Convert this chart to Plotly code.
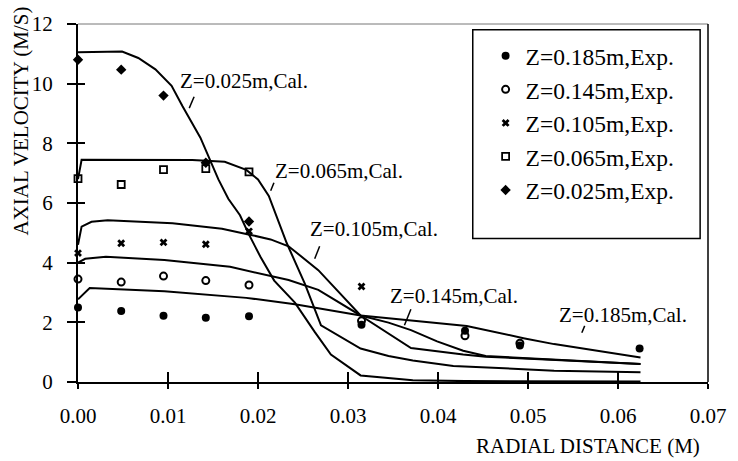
import plotly.graph_objects as go

# ---------------- data ----------------
# Calculated profiles (lines)
cal_025_x = [0.0, 0.0049, 0.0067, 0.0086, 0.0104, 0.0116, 0.0136, 0.0147, 0.0156, 0.0167,
             0.0180, 0.0190, 0.0203, 0.0218, 0.0241, 0.0263, 0.0281, 0.0314, 0.0372, 0.0430, 0.0625]
cal_025_y = [11.05, 11.08, 10.86, 10.48, 9.93, 9.25, 8.19, 7.44, 6.79, 6.14,
             5.59, 4.94, 4.18, 3.40, 2.66, 1.68, 0.92, 0.22, 0.06, 0.03, 0.02]

cal_065_x = [0.0, 0.0004, 0.0127, 0.0163, 0.0187, 0.0200, 0.0212, 0.0232, 0.0252, 0.0270,
             0.0314, 0.0345, 0.0372, 0.0417, 0.0529, 0.0625]
cal_065_y = [6.80, 7.45, 7.44, 7.38, 7.11, 6.79, 6.24, 4.65, 3.30, 1.90,
             1.12, 0.87, 0.72, 0.54, 0.38, 0.33]

cal_105_x = [0.0, 0.0004, 0.0015, 0.0033, 0.0105, 0.0160, 0.0192, 0.0214, 0.0234, 0.0267,
             0.0314, 0.0345, 0.0370, 0.0428, 0.0453, 0.0625]
cal_105_y = [4.60, 5.21, 5.37, 5.42, 5.32, 5.14, 4.93, 4.78, 4.55, 3.75,
             2.23, 1.63, 1.14, 0.92, 0.85, 0.60]

cal_145_x = [0.0, 0.0008, 0.0031, 0.0096, 0.0169, 0.0234, 0.0267, 0.0314, 0.0345, 0.0370,
             0.0399, 0.0428, 0.0453, 0.0625]
cal_145_y = [4.00, 4.13, 4.20, 4.09, 3.86, 3.42, 3.09, 2.23, 1.99, 1.74,
             1.36, 1.05, 0.87, 0.60]

cal_185_x = [0.0, 0.0013, 0.0096, 0.0187, 0.0241, 0.0274, 0.0314, 0.0345, 0.0432, 0.0495,
             0.0529, 0.0625]
cal_185_y = [2.77, 3.15, 3.04, 2.82, 2.61, 2.44, 2.23, 2.14, 1.88, 1.47,
             1.27, 0.82]

# Experimental points
exp_185_x = [0.0, 0.0048, 0.0095, 0.0142, 0.0190, 0.0315, 0.0430, 0.0491, 0.0624]
exp_185_y = [2.50, 2.38, 2.22, 2.15, 2.20, 1.92, 1.72, 1.22, 1.12]
exp_145_x = [0.0, 0.0048, 0.0095, 0.0142, 0.0190, 0.0315, 0.0430, 0.0491]
exp_145_y = [3.45, 3.35, 3.55, 3.40, 3.25, 2.05, 1.55, 1.30]
exp_105_x = [0.0, 0.0048, 0.0095, 0.0142, 0.0190, 0.0315]
exp_105_y = [4.32, 4.65, 4.68, 4.62, 5.05, 3.20]
exp_065_x = [0.0, 0.0048, 0.0095, 0.0142, 0.0190]
exp_065_y = [6.82, 6.62, 7.12, 7.15, 7.04]
exp_025_x = [0.0, 0.0048, 0.0095, 0.0142, 0.0190]
exp_025_y = [10.80, 10.47, 9.60, 7.35, 5.38]

x_tick_vals = [0.00, 0.01, 0.02, 0.03, 0.04, 0.05, 0.06, 0.07]
x_tick_text = ["0.00", "0.01", "0.02", "0.03", "0.04", "0.05", "0.06", "0.07"]
y_tick_vals = [0, 2, 4, 6, 8, 10, 12]

cal_labels = ["Z=0.025m,Cal.", "Z=0.065m,Cal.", "Z=0.105m,Cal.", "Z=0.145m,Cal.", "Z=0.185m,Cal."]
exp_labels = ["Z=0.185m,Exp.", "Z=0.145m,Exp.", "Z=0.105m,Exp.", "Z=0.065m,Exp.", "Z=0.025m,Exp."]

# ---------------- figure ----------------
FONT = "Liberation Serif"
fig = go.Figure()

line_style = dict(color="black", width=2)
for xs, ys in [(cal_025_x, cal_025_y), (cal_065_x, cal_065_y), (cal_105_x, cal_105_y),
               (cal_145_x, cal_145_y), (cal_185_x, cal_185_y)]:
    fig.add_trace(go.Scatter(x=xs, y=ys, mode="lines", line=line_style,
                             showlegend=False, hoverinfo="skip"))

exp_sets = [
    (exp_185_x, exp_185_y, dict(symbol="circle", size=8, color="black")),
    (exp_145_x, exp_145_y, dict(symbol="circle-open", size=7, color="black", line=dict(width=2))),
    (exp_105_x, exp_105_y, dict(symbol="x", size=7, color="black")),
    (exp_065_x, exp_065_y, dict(symbol="square-open", size=7, color="black", line=dict(width=1.8))),
    (exp_025_x, exp_025_y, dict(symbol="diamond", size=8, color="black")),
]
for (xs, ys, mk), name in zip(exp_sets, exp_labels):
    fig.add_trace(go.Scatter(x=xs, y=ys, mode="markers", marker=mk, name=name,
                             cliponaxis=False))

# invisible trace so that the overlay axes (inner tick marks) are drawn
fig.add_trace(go.Scatter(x=[None], y=[None], xaxis="x2", yaxis="y2", mode="markers",
                         showlegend=False, hoverinfo="skip"))

# label positions (data coords) and their small pointer strokes
label_pos = [(0.01109, 10.09), (0.02163, 7.06), (0.02554, 5.14), (0.03446, 2.89), (0.05326, 2.24)]
pointer = [((0.01236, 9.18), (0.01290, 9.56)),
           ((0.02141, 6.41), (0.02177, 6.68)),
           ((0.02630, 4.13), (0.02685, 4.55)),
           ((0.03627, 1.90), (0.03699, 2.44)),
           ((0.05598, 1.65), (0.05630, 1.88))]

annotations = []
for txt, (lx, ly) in zip(cal_labels, label_pos):
    annotations.append(dict(x=lx, y=ly, xref="x", yref="y", text=txt, showarrow=False,
                            xanchor="left", yanchor="middle",
                            font=dict(family=FONT, size=21, color="black")))
annotations.append(dict(x=0.99, y=-0.178, xref="paper", yref="paper",
                        text="RADIAL DISTANCE (M)", showarrow=False,
                        xanchor="right", yanchor="middle",
                        font=dict(family=FONT, size=21, color="black")))
annotations.append(dict(x=-0.0906, y=0.73, xref="paper", yref="paper",
                        text="AXIAL VELOCITY (M/S)", showarrow=False, textangle=-90,
                        xanchor="center", yanchor="middle",
                        font=dict(family=FONT, size=21, color="black")))

shapes = []
for (p0, p1) in pointer:
    shapes.append(dict(type="line", xref="x", yref="y", x0=p0[0], y0=p0[1], x1=p1[0], y1=p1[1],
                       line=dict(color="black", width=1.5)))
# top and right borders of the plot frame
shapes.append(dict(type="line", xref="paper", yref="paper", x0=0, y0=1, x1=1, y1=1,
                   line=dict(color="#777777", width=1)))
shapes.append(dict(type="line", xref="paper", yref="paper", x0=1, y0=0, x1=1, y1=1,
                   line=dict(color="black", width=1.5)))
# legend frame
shapes.append(dict(type="rect", xref="paper", yref="paper", x0=0.6266, y0=0.4006,
                   x1=0.9875, y1=0.9837, line=dict(color="black", width=1.5)))

axis_common = dict(showgrid=False, zeroline=False, showline=True, linecolor="black",
                   linewidth=2, tickcolor="black", tickwidth=1.5,
                   tickfont=dict(family=FONT, size=21, color="black"))

fig.update_layout(
    width=738, height=461,
    margin=dict(l=78, r=20, t=13, b=79),
    paper_bgcolor="white", plot_bgcolor="white",
    showlegend=True,
    legend=dict(x=0.647, y=0.972, xanchor="left", yanchor="top",
                bgcolor="rgba(0,0,0,0)", borderwidth=0,
                font=dict(family=FONT, size=23.5, color="black")),
    xaxis=dict(range=[0, 0.07], tickvals=x_tick_vals, ticktext=x_tick_text,
               ticks="outside", ticklen=5, ticklabelstandoff=9, **axis_common),
    yaxis=dict(range=[0, 12], tickvals=y_tick_vals,
               ticks="outside", ticklen=9, ticklabelstandoff=10, **axis_common),
    xaxis2=dict(range=[0, 0.07], tickvals=x_tick_vals, overlaying="x", side="bottom",
                anchor="y", ticks="inside", ticklen=10, tickwidth=1.5, tickcolor="black",
                showticklabels=False, showgrid=False, zeroline=False, showline=False),
    yaxis2=dict(range=[0, 12], tickvals=y_tick_vals, overlaying="y", side="left",
                anchor="x", ticks="inside", ticklen=7, tickwidth=1.5, tickcolor="black",
                showticklabels=False, showgrid=False, zeroline=False, showline=False),
    annotations=annotations,
    shapes=shapes,
)

fig.write_html("out.html")
